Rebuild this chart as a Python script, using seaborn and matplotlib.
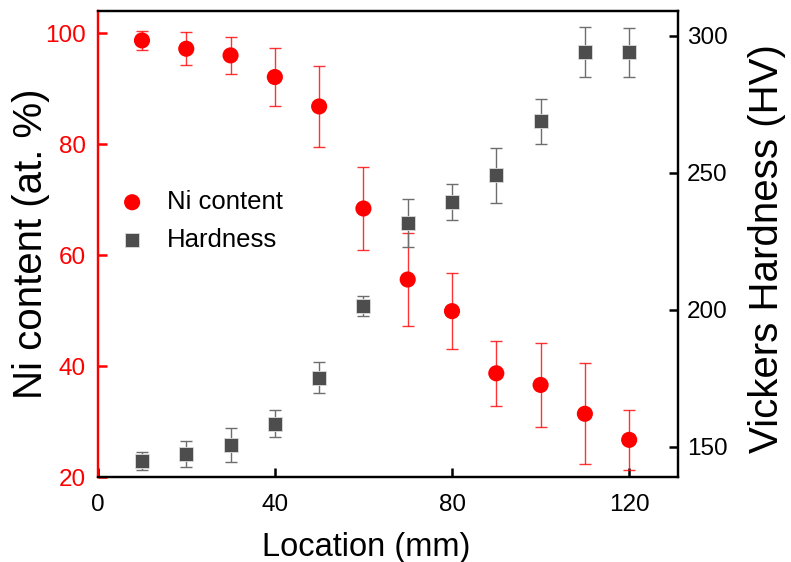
import numpy as np
import pandas as pd
import matplotlib
matplotlib.use("Agg")
import matplotlib.pyplot as plt
import seaborn as sns

# --- data ---
location = [10, 20, 30, 40, 50, 60, 70, 80, 90, 100, 110, 120]
ni_content = [98.7, 97.2, 96.0, 92.1, 86.8, 68.4, 55.6, 49.9, 38.7, 36.6, 31.4, 26.7]
ni_err = [1.7, 3.0, 3.4, 5.2, 7.3, 7.4, 8.3, 6.8, 5.9, 7.6, 9.1, 5.4]
hardness = [144.9, 147.3, 150.6, 158.5, 175.2, 201.5, 231.7, 239.4, 249.1, 268.8, 294.0, 294.0]
hard_err = [3.3, 4.7, 6.2, 4.8, 5.6, 3.7, 8.8, 6.5, 10.0, 8.2, 9.0, 8.9]

RED = "#ff0000"
GREY = "#4d4d4d"

sns.set_style("ticks")
plt.rcParams["font.family"] = ["Liberation Sans", "DejaVu Sans"]
plt.rcParams["text.color"] = "black"
plt.rcParams["axes.labelcolor"] = "black"
plt.rcParams["xtick.color"] = "black"
plt.rcParams["ytick.color"] = "black"

df = pd.DataFrame({"loc": location, "ni": ni_content, "ni_err": ni_err,
                   "hv": hardness, "hv_err": hard_err})

fig = plt.figure(figsize=(7.91, 5.62), dpi=100)
ax = fig.add_axes([0.1235, 0.1512, 0.7335, 0.8292])
ax2 = ax.twinx()

# Ni content (left axis)
ax.errorbar(df["loc"], df["ni"], yerr=df["ni_err"], fmt="none", ecolor=RED,
            elinewidth=1.0, capsize=4.5, capthick=1.0, alpha=0.8, zorder=2)
sns.scatterplot(data=df, x="loc", y="ni", ax=ax, color=RED, marker="o",
                s=135, edgecolor="none", label="Ni content", legend=False, zorder=3)

# Hardness (right axis)
ax2.errorbar(df["loc"], df["hv"], yerr=df["hv_err"], fmt="none", ecolor="#6e6e6e",
             elinewidth=1.0, capsize=4.5, capthick=1.0, zorder=2)
sns.scatterplot(data=df, x="loc", y="hv", ax=ax2, color=GREY, marker="s",
                s=95, edgecolor="#dddddd", linewidth=0.6, label="Hardness",
                legend=False, zorder=3)

ax.set_xlim(0.75, 131)
ax.set_ylim(20, 104)
ax2.set_ylim(139, 309)
ax.set_xticks([0, 40, 80, 120])
ax.set_yticks([20, 40, 60, 80, 100])
ax2.set_yticks([150, 200, 250, 300])

ax.set_xlabel("Location (mm)", fontsize=23.5)
ax.xaxis.set_label_coords(0.462, -0.118)
ax.set_ylabel("Ni content (at. %)", fontsize=29)
ax.yaxis.set_label_coords(-0.083, 0.5)
ax2.set_ylabel("Vickers Hardness (HV)", fontsize=29)
ax2.yaxis.set_label_coords(1.12, 0.49)

for a in (ax, ax2):
    for sp in a.spines.values():
        sp.set_linewidth(1.6)
        sp.set_color("black")
        sp.set_visible(True)
ax.spines["left"].set_color(RED)
ax2.spines["left"].set_color(RED)

ax.tick_params(axis="both", direction="in", length=6.5, width=1.8, labelsize=17.5)
ax.tick_params(axis="y", colors=RED, labelcolor=RED, pad=8.4)
ax.tick_params(axis="x", pad=12)
ax2.tick_params(axis="y", direction="in", length=6.5, width=1.8, labelsize=17.5, pad=6.5)

h1, l1 = ax.get_legend_handles_labels()
h2, l2 = ax2.get_legend_handles_labels()
ax2.legend(h1 + h2, l1 + l2, loc="upper left", bbox_to_anchor=(0.0195, 0.638),
           frameon=False, fontsize=18.5, handlelength=1.0, handletextpad=0.85,
           borderaxespad=0, borderpad=0.4, labelspacing=0.55)

fig.savefig("out.png", dpi=100)
